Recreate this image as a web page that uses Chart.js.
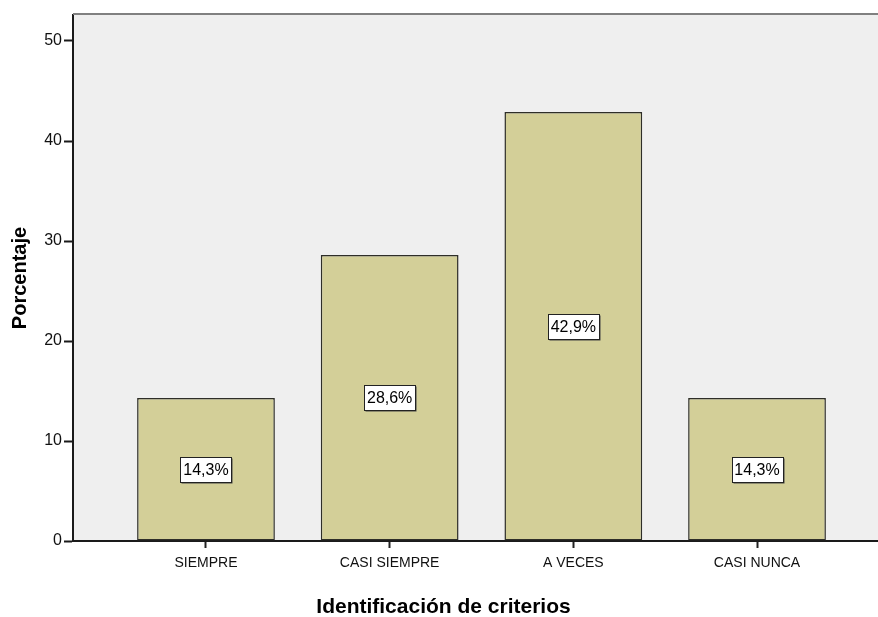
<!DOCTYPE html>
<html>
<head>
<meta charset="utf-8">
<script src="https://cdn.jsdelivr.net/npm/chart.js@4"></script>
<style>
html,body{margin:0;padding:0;background:#fff;overflow:hidden;width:878px;height:617px;}
canvas{display:block;}
</style>
</head>
<body>
<canvas id="c" width="900" height="617"></canvas>
<script>
const categories = ["SIEMPRE", "CASI SIEMPRE", "A VECES", "CASI NUNCA"];
const percentages = [14.3, 28.6, 42.9, 14.3];
const yTicks = [0, 10, 20, 30, 40, 50];
const xTitle = "Identificación de criterios";
const yTitle = "Porcentaje";

function narrowAvailable() {
  const ctx = document.createElement('canvas').getContext('2d');
  ctx.font = '16px "Liberation Sans"';
  const a = ctx.measureText('SIEMPRE CASI NUNCA').width;
  ctx.font = '16px "Liberation Sans Narrow", "Liberation Sans"';
  const b = ctx.measureText('SIEMPRE CASI NUNCA').width;
  return Math.abs(a - b) > 2;
}
const xTickFont = narrowAvailable()
  ? { family: '"Liberation Sans Narrow", "Liberation Sans", Arial', size: 16 }
  : { family: '"Liberation Sans", Arial', size: 14 };

const bgPlugin = {
  id: 'bg',
  beforeDraw(chart) {
    const { ctx, chartArea: a } = chart;
    ctx.save();
    ctx.fillStyle = '#ffffff';
    ctx.fillRect(0, 0, chart.width, chart.height);
    ctx.fillStyle = '#efefef';
    ctx.fillRect(a.left, a.top, a.right - a.left, a.bottom - a.top);
    ctx.restore();
  },
  afterDraw(chart) {
    const { ctx, chartArea: a } = chart;
    ctx.save();
    ctx.strokeStyle = '#808080';
    ctx.lineWidth = 2;
    ctx.beginPath();
    ctx.moveTo(a.left, a.top - 1);
    ctx.lineTo(a.right, a.top - 1);
    ctx.moveTo(a.right, a.top);
    ctx.lineTo(a.right, a.bottom);
    ctx.stroke();
    ctx.fillStyle = '#000';
    ctx.font = 'bold 21px "Liberation Sans", Arial';
    ctx.textAlign = 'center';
    ctx.textBaseline = 'middle';
    ctx.fillText(xTitle, 443.5, 607);
    ctx.restore();
  }
};

const labelPlugin = {
  id: 'boxLabels',
  afterDatasetsDraw(chart) {
    const { ctx } = chart;
    const meta = chart.getDatasetMeta(0);
    ctx.save();
    ctx.font = '16px "Liberation Sans", Arial';
    ctx.textAlign = 'center';
    ctx.textBaseline = 'middle';
    meta.data.forEach((el, i) => {
      const txt = percentages[i].toFixed(1).replace('.', ',') + '%';
      const cx = el.x;
      const cy = (el.y + el.base) / 2;
      const w = Math.round(ctx.measureText(txt).width + 6);
      const h = 25;
      const x0 = Math.round(cx - w / 2) + 0.5;
      const y0 = Math.round(cy - h / 2) + 0.5;
      ctx.fillStyle = '#444';
      ctx.fillRect(x0 + 1, y0 + 1, w, h);
      ctx.fillStyle = '#ffffff';
      ctx.fillRect(x0, y0, w, h);
      ctx.strokeStyle = '#222';
      ctx.lineWidth = 1;
      ctx.strokeRect(x0, y0, w, h);
      ctx.fillStyle = '#000';
      ctx.fillText(txt, cx, cy + 1);
    });
    ctx.restore();
  }
};

new Chart(document.getElementById('c'), {
  type: 'bar',
  data: {
    datasets: [{
      data: categories.map((c, i) => ({ x: i, y: percentages[i] })),
      backgroundColor: '#d3cf98',
      borderColor: '#2e2e28',
      borderWidth: 1.5,
      borderSkipped: false,
      barPercentage: 0.75,
      categoryPercentage: 1.0
    }]
  },
  options: {
    responsive: false,
    animation: false,
    devicePixelRatio: 1,
    layout: { padding: { top: 15, right: 10, left: 0, bottom: 0 } },
    plugins: { legend: { display: false }, tooltip: { enabled: false } },
    scales: {
      x: {
        type: 'linear',
        offset: false,
        min: -0.724,
        max: 3.724,
        afterBuildTicks(scale) { scale.ticks = categories.map((c, i) => ({ value: i })); },
        afterFit(scale) { scale.height = 76; },
        ticks: {
          autoSkip: false,
          maxRotation: 0,
          padding: 7,
          color: '#111',
          font: xTickFont,
          callback: (v) => categories[v] ?? ''
        },
        grid: { offset: false, drawOnChartArea: false, drawTicks: true, tickLength: 7, tickColor: '#222', tickWidth: 2 },
        border: { display: true, color: '#1a1a1a', width: 2 },
        title: { display: false }
      },
      y: {
        type: 'linear',
        min: 0,
        max: 52.6,
        afterBuildTicks(scale) { scale.ticks = yTicks.map(v => ({ value: v })); },
        afterFit(scale) { scale.width = 73; },
        ticks: {
          padding: 2,
          color: '#111',
          font: { family: '"Liberation Sans", Arial', size: 16 },
          callback: (v) => String(v)
        },
        grid: { drawOnChartArea: false, drawTicks: true, tickLength: 9, tickColor: '#1a1a1a', tickWidth: 2 },
        border: { display: true, color: '#1a1a1a', width: 2 },
        title: {
          display: true,
          text: yTitle,
          color: '#000',
          font: { family: '"Liberation Sans", Arial', size: 20, weight: 'bold' },
          padding: { top: 8, bottom: 0 }
        }
      }
    }
  },
  plugins: [bgPlugin, labelPlugin]
});
</script>
</body>
</html>
